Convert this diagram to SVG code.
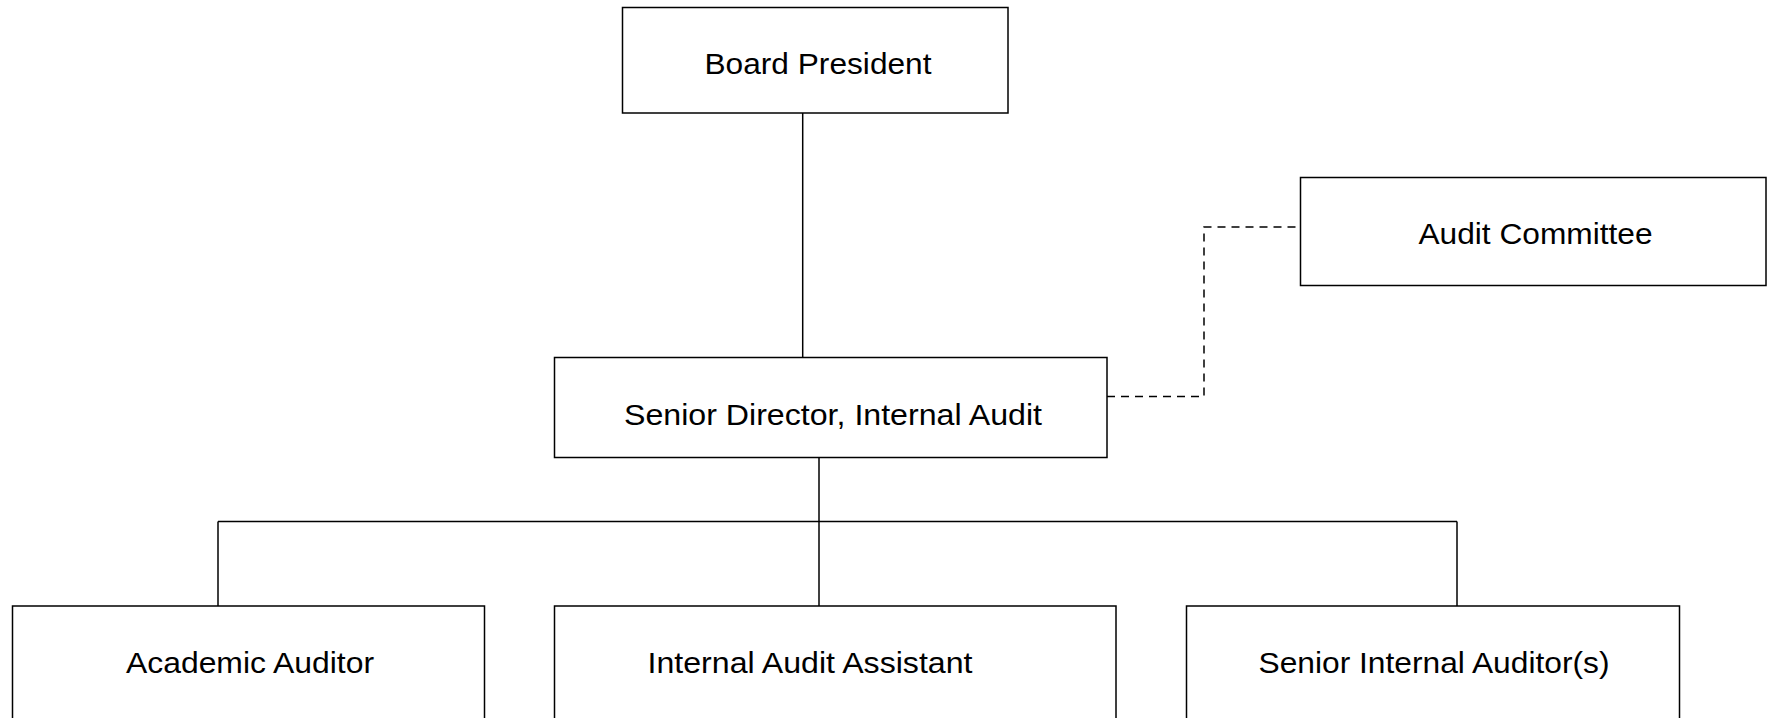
<svg xmlns="http://www.w3.org/2000/svg" width="1775" height="718" viewBox="0 0 1775 718">
  <style>
    .box { fill: #ffffff; stroke: #000000; stroke-width: 1.5; }
    .lbl { font-family: "Liberation Sans", Arial, sans-serif; font-size: 30px; fill: #000000; }
    .conn { fill: none; stroke: #000000; stroke-width: 1.5; }
    .dash { fill: none; stroke: #000000; stroke-width: 1.5; stroke-dasharray: 8 6; }
  </style>
  <rect x="0" y="0" width="1775" height="718" fill="#ffffff"/>
  <g id="connectors">
    <line class="conn" x1="802.7" y1="113" x2="802.7" y2="357.5"/>
    <line class="conn" x1="819" y1="457.5" x2="819" y2="606"/>
    <line class="conn" x1="218" y1="521.5" x2="1457" y2="521.5"/>
    <line class="conn" x1="218" y1="521.5" x2="218" y2="606"/>
    <line class="conn" x1="1457" y1="521.5" x2="1457" y2="606"/>
    <path class="dash" d="M1107 396.5 H1204 V227 H1300"/>
  </g>
  <g id="board-president">
    <rect class="box" x="622.5" y="7.5" width="385.5" height="105.5"/>
    <text class="lbl" x="704.5" y="73.5" textLength="227" lengthAdjust="spacingAndGlyphs">Board President</text>
  </g>
  <g id="audit-committee">
    <rect class="box" x="1300.5" y="177.5" width="465.5" height="108"/>
    <text class="lbl" x="1418.5" y="243.5" textLength="234" lengthAdjust="spacingAndGlyphs">Audit Committee</text>
  </g>
  <g id="senior-director">
    <rect class="box" x="554.5" y="357.5" width="552.5" height="100"/>
    <text class="lbl" x="624" y="425" textLength="418" lengthAdjust="spacingAndGlyphs">Senior Director, Internal Audit</text>
  </g>
  <g id="academic-auditor">
    <rect class="box" x="12.5" y="606" width="472" height="140"/>
    <text class="lbl" x="126" y="673.3" textLength="248" lengthAdjust="spacingAndGlyphs">Academic Auditor</text>
  </g>
  <g id="internal-audit-assistant">
    <rect class="box" x="554.5" y="606" width="561.5" height="140"/>
    <text class="lbl" x="647.5" y="673.3" textLength="325" lengthAdjust="spacingAndGlyphs">Internal Audit Assistant</text>
  </g>
  <g id="senior-internal-auditors">
    <rect class="box" x="1186.5" y="606" width="493" height="140"/>
    <text class="lbl" x="1258.5" y="673.3" textLength="351" lengthAdjust="spacingAndGlyphs">Senior Internal Auditor(s)</text>
  </g>
</svg>
